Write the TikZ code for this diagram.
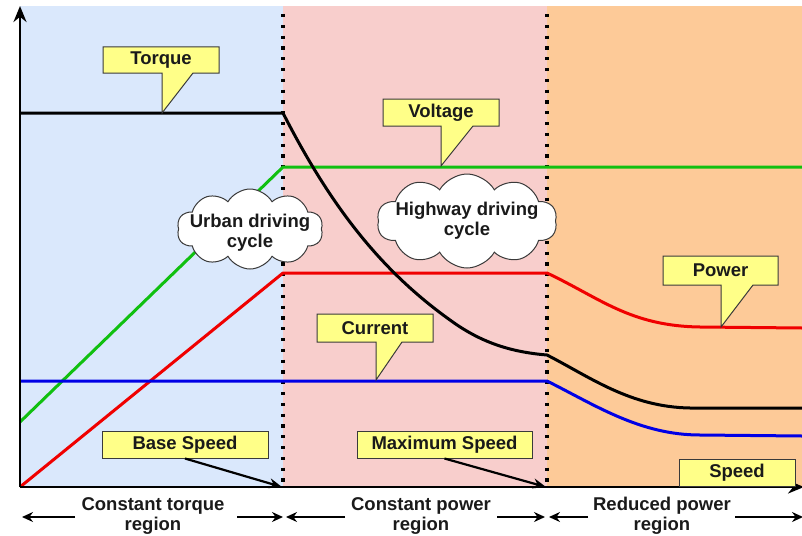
\documentclass[tikz,border=0pt]{standalone}
\usepackage{fontspec}
\setmainfont{Liberation Sans}
\usetikzlibrary{arrows.meta,shapes.symbols}
\definecolor{bgblue}{HTML}{DAE8FC}
\definecolor{bgpink}{HTML}{F8CECC}
\definecolor{bgorange}{HTML}{FDCA98}
\definecolor{noteyellow}{HTML}{FFFF88}
\definecolor{noteborder}{HTML}{3A3A3A}
\definecolor{cgreen}{HTML}{10C010}
\definecolor{cred}{HTML}{F00000}
\definecolor{cblue}{HTML}{0000E6}
\definecolor{txt}{HTML}{1A1A1A}
\begin{document}
\begin{tikzpicture}[x=1pt,y=-1pt,
  lbl/.style={font=\fontsize{18.5}{20}\selectfont\bfseries, text=txt, align=center, inner sep=2pt},
  notebox/.style={fill=noteyellow, draw=noteborder, line width=1pt, line join=miter},
  curve/.style={line width=3pt, line join=round},
  axisline/.style={line width=2.6pt, draw=black},
  divider/.style={line width=3.2pt, dash pattern=on 3.2pt off 7.6pt},
  cloudy/.style={cloud, cloud puffs=10, cloud puff arc=120, draw=noteborder, fill=white, line width=1pt, inner sep=0pt},
  regarr/.style={line width=1.6pt, -{Stealth[length=11pt,width=10pt]}},
  ptr/.style={line width=2.2pt, -{Stealth[length=13pt,width=10pt]}}
]
\useasboundingbox (0,0) rectangle (802,535);
% regions
\fill[bgblue] (20,6) rectangle (283,487);
\fill[bgpink] (283,6) rectangle (547,487);
\fill[bgorange] (547,6) rectangle (802,487);
\draw[divider] (283,14) -- (283,487);
\draw[divider] (547,14) -- (547,487);

% named points
\coordinate (o) at (20,487);
\coordinate (ytip) at (20,6);
\coordinate (xtip) at (804,487);

% curves
\draw[curve, cgreen] (20,422) -- (283,167) -- (802,167);
\draw[curve, cred] (o) -- (283,273) -- (547,273)
  .. controls (600,298) and (630,326) .. (700,327) -- (802,328);
\draw[curve, cblue] (20,381) -- (547,381)
  .. controls (595,405) and (640,435) .. (700,435) -- (802,436);
\draw[curve, black] (20,113) -- (283,113)
  .. controls (330,205) and (380,270) .. (450,320)
  .. controls (480,342) and (510,352) .. (547,355)
  .. controls (590,377) and (630,407) .. (690,408) -- (802,408);

% axes
\draw[axisline, -{Stealth[length=16pt,width=13pt]}] (o) -- (ytip);
\draw[axisline, -{Stealth[length=16pt,width=13pt]}] (o) -- (xtip);

% clouds
\node[cloudy, minimum width=146pt, minimum height=80pt] (urbancloud) at (250,229) {};
\node[lbl] (urban) at (250,233) {Urban driving\\cycle};
\node[cloudy, minimum width=180pt, minimum height=94pt] (hwcloud) at (467,221) {};
\node[lbl] (highway) at (467,221) {Highway driving\\cycle};

% callouts with pointers
\draw[notebox] (103,47) -- (219,47) -- (219,73) -- (193,73) -- (162,113) -- (162,73) -- (103,73) -- cycle;
\node[lbl] (torque) at (161,60) {Torque};
\draw[notebox] (383,99) -- (499,99) -- (499,126) -- (473,126) -- (441,166) -- (441,126) -- (383,126) -- cycle;
\node[lbl] (voltage) at (441,112.5) {Voltage};
\draw[notebox] (663,256) -- (778,256) -- (778,285) -- (753,285) -- (721,327) -- (721,285) -- (663,285) -- cycle;
\node[lbl] (power) at (720.5,270.5) {Power};
\draw[notebox] (317,314) -- (433,314) -- (433,342) -- (402,342) -- (376,380) -- (376,342) -- (317,342) -- cycle;
\node[lbl] (current) at (375,328) {Current};

% speed labels
\node[lbl, notebox, minimum width=166pt, minimum height=27pt] (base) at (185,444.5) {Base Speed};
\node[lbl, notebox, minimum width=175pt, minimum height=27pt] (maxs) at (444.5,444.5) {Maximum Speed};
\node[lbl, notebox, minimum width=116pt, minimum height=27pt] (speed) at (737,472.5) {Speed};
\coordinate (basept) at (282,487);
\coordinate (maxpt) at (546,487);
\draw[ptr] (base.south) -- (basept);
\draw[ptr] (maxs.south) -- (maxpt);

% region labels
\node[lbl] (rtorque) at (153,516) {Constant torque\\region};
\node[lbl] (rpower) at (421,516) {Constant power\\region};
\node[lbl] (rreduced) at (662,516) {Reduced power\\region};
\coordinate (l1) at (22,517);
\coordinate (r1) at (283,517);
\coordinate (l2) at (286,517);
\coordinate (r2) at (545,517);
\coordinate (l3) at (549,517);
\coordinate (r3) at (803,517);
\draw[regarr] (75,517) -- (l1);
\draw[regarr] (237,517) -- (r1);
\draw[regarr] (345,517) -- (l2);
\draw[regarr] (497,517) -- (r2);
\draw[regarr] (588,517) -- (l3);
\draw[regarr] (735,517) -- (r3);
\end{tikzpicture}
\end{document}
